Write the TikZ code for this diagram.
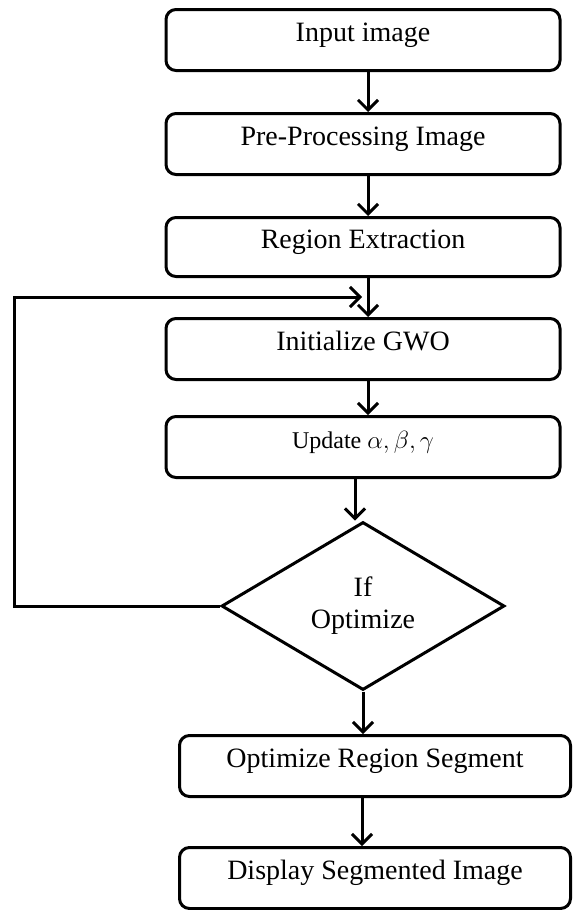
\documentclass[tikz,border=0pt]{standalone}
\usepackage{fontspec}
\setmainfont{Liberation Serif}
\usetikzlibrary{shapes.geometric,arrows.meta}

\tikzset{
	stepbox/.style={draw, line width=3pt, rounded corners=10pt, minimum width=394pt,
		minimum height=61pt, inner sep=0pt, text depth=0.45em, text height=0.75em,
		font=\fontsize{28}{32}\selectfont},
	decbox/.style={draw, diamond, line width=3pt, minimum width=283pt, minimum height=168pt,
		aspect=1.68, inner sep=0pt, align=center, font=\fontsize{28}{32}\selectfont},
	arr/.style={line width=3pt, -{Straight Barb[length=10pt,width=20pt,line width=3pt]}}
}

\begin{document}
\begin{tikzpicture}[x=1pt, y=-1pt]
	\useasboundingbox (0,0) rectangle (573,910);

	%process boxes
	\node[stepbox] (input) at (363, 40){Input image};
	\node[stepbox] (pre) at (363, 144){Pre-Processing Image};
	\node[stepbox, minimum height=59pt] (region) at (363, 247){Region Extraction};
	\node[stepbox] (init) at (363, 349){Initialize GWO};
	\node[stepbox, font=\fontsize{24}{28}\selectfont] (update) at (363, 447){Update $\alpha, \beta, \gamma$};

	%decision
	\node[decbox] (check) at (363, 606){If\\Optimize};

	\node[stepbox, minimum width=391pt] (opt) at (375, 766){Optimize Region Segment};
	\node[stepbox, minimum width=391pt] (disp) at (375, 878){Display Segmented Image};

	%arrows
	\draw[arr] ([xshift=5pt]input.south) -- ([xshift=5pt]pre.north);
	\draw[arr] ([xshift=5pt]pre.south) -- ([xshift=5pt]region.north);
	\draw[arr] ([xshift=5pt]region.south) -- ([xshift=5pt]init.north);
	\draw[arr] ([xshift=5pt]init.south) -- ([xshift=5pt]update.north);
	\draw[arr] ([xshift=-8pt]update.south) -- ([xshift=-8pt]check.north);
	\draw[arr] (check.south) -- (check.south |- opt.north);
	\draw[arr] ([xshift=-13pt]opt.south) -- ([xshift=-13pt]disp.north);

	%loop back
	\coordinate (back) at (14, 297);
	\coordinate (loop) at (362, 297);
	\draw[arr] (check.west) -| (back) -- (loop);
\end{tikzpicture}
\end{document}
